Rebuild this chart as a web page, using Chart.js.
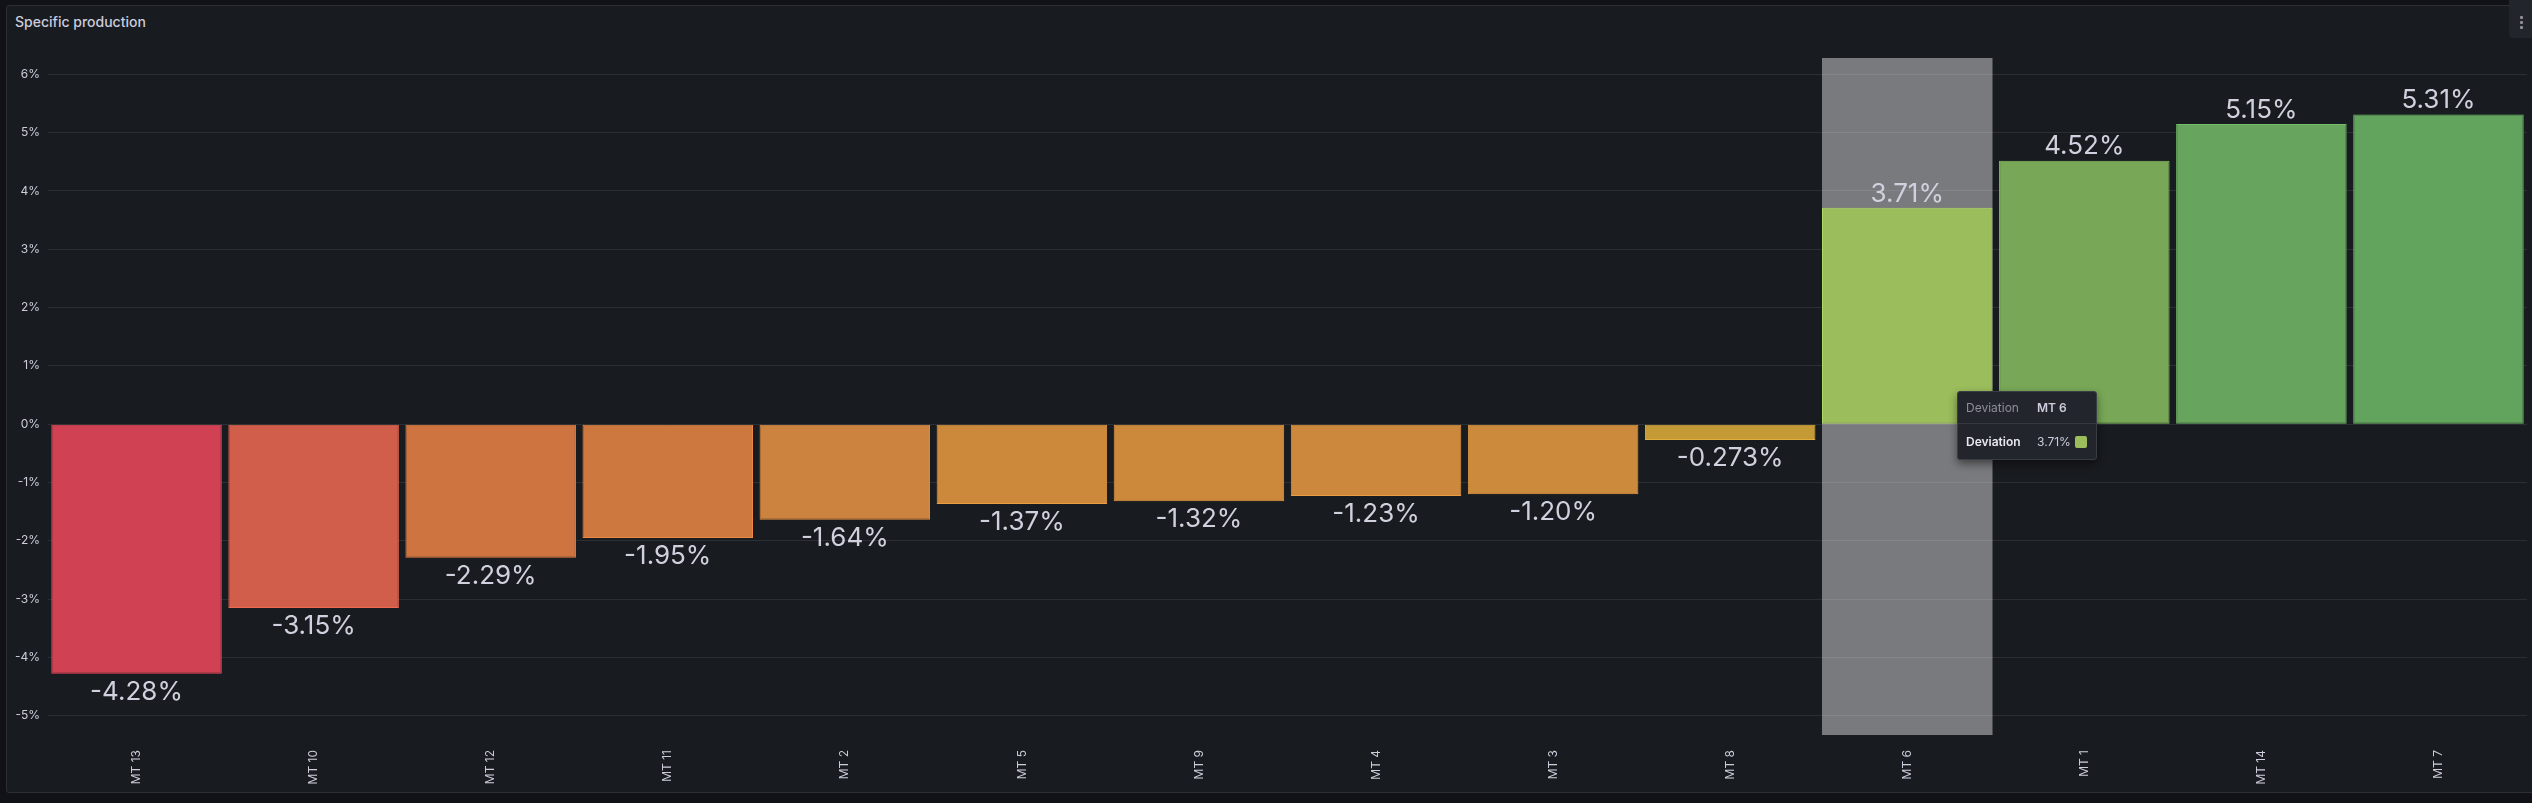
<!DOCTYPE html>
<html>
<head>
<meta charset="utf-8">
<script src="https://cdn.jsdelivr.net/npm/chart.js@4"></script>
<style>
  html, body { margin: 0; padding: 0; background: #111217; overflow: hidden; }
  body { width: 2532px; height: 803px; position: relative; font-family: Inter, "Noto Sans", sans-serif; }
  .panel { position: absolute; left: 6px; top: 5px; width: 2540px; height: 788px; background: #181b1f;
           border: 1px solid #2c2e33; border-radius: 3px; box-sizing: border-box; }
  .title { position: absolute; left: 15px; top: 13px; font-size: 14px; font-weight: 500; color: #ccccdc; line-height: 18px; }
  .menu { position: absolute; left: 2509px; top: 0; width: 30px; height: 38px; background: #22252b; border-radius: 0 0 0 4px; }
  .menu i { position: absolute; left: 11px; width: 3px; height: 3px; background: #8e8e96; border-radius: 1px; }
  canvas { position: absolute; left: 0; top: 0; }
  #tip { position: absolute; width: 140px; background: #22252b; border: 1px solid #3a3d43; border-radius: 3px;
         box-sizing: border-box; box-shadow: 0 4px 8px rgba(0,0,0,0.45); font-size: 12px; color: #ccccdc; }
  #tip .hd, #tip .row { display: flex; align-items: center; padding-left: 8px; }
  #tip .hd { height: 31px; border-bottom: 1px solid #34373d; }
  #tip .row { height: 35px; }
  #tip .k { width: 71px; }
  #tip .hd .k { color: #8e8e9a; }
  #tip .hd .v { font-weight: 600; }
  #tip .row .k { font-weight: 600; color: #e8e8f0; }
  #tip .sw { display: inline-block; width: 12px; height: 12px; border-radius: 2px; margin-left: 4px; vertical-align: -2px; }
</style>
</head>
<body>
<div class="panel"></div>
<div class="title">Specific production</div>
<div class="menu"><i style="top:16px"></i><i style="top:21px"></i><i style="top:26px"></i></div>
<canvas id="spec" width="2532" height="803"></canvas>
<div id="tip">
  <div class="hd"><span class="k">Deviation</span><span class="v" id="tipCat"></span></div>
  <div class="row"><span class="k">Deviation</span><span class="v" id="tipVal"></span></div>
</div>
<script>
// Ecart de production spécifique par onduleur (en %)
const categories = ["MT 13", "MT 10", "MT 12", "MT 11", "MT 2", "MT 5", "MT 9", "MT 4", "MT 3", "MT 8", "MT 6", "MT 1", "MT 14", "MT 7"];
const deviation = [-4.28, -3.15, -2.29, -1.95, -1.64, -1.37, -1.32, -1.23, -1.20, -0.273, 3.71, 4.52, 5.15, 5.31];
const yMin = -5.33;
const yMax = 6.28;
const hoverIndex = 10; // MT 6 survolé

// Couleurs de remplissage (palette rouge-jaune-vert)
const fills = ["#cf4153", "#d05e4a", "#cd7441", "#cd783e", "#cc833f", "#cc893c", "#cc893c", "#cc893d", "#cc8a3c", "#c49a37", "#9bbd5c", "#77a757", "#67a55e", "#62a35d"];

// bordure = couleur pleine (remplissage à ~85% sur le fond du panneau)
function borderOf(hex) {
  const bg = [24, 27, 31];
  const c = [1, 3, 5].map((i) => parseInt(hex.substr(i, 2), 16));
  const out = c.map((v, i) => Math.min(255, Math.round(bg[i] + (v - bg[i]) / 0.85)));
  return "rgb(" + out.join(",") + ")";
}

function fmt(v) {
  return Math.abs(v) < 1 ? v.toFixed(3) + "%" : v.toFixed(2) + "%";
}

// Colonne grise de survol
const hoverColumn = {
  id: "hoverColumn",
  beforeDatasetsDraw(chart) {
    const bar = chart.getDatasetMeta(0).data[hoverIndex];
    const area = chart.chartArea;
    const ctx = chart.ctx;
    ctx.save();
    ctx.fillStyle = "rgba(255,255,255,0.42)";
    ctx.fillRect(bar.x - bar.width / 2, area.top, bar.width, area.bottom - area.top);
    ctx.restore();
  },
};

// Valeurs affichées au bout des barres
const valueLabels = {
  id: "valueLabels",
  afterDatasetsDraw(chart) {
    const ctx = chart.ctx;
    ctx.save();
    ctx.font = "400 26px Inter";
    ctx.fillStyle = "#d0d0de";
    ctx.textAlign = "center";
    ctx.textBaseline = "middle";
    chart.getDatasetMeta(0).data.forEach((bar, i) => {
      const v = deviation[i];
      const y = v < 0 ? bar.y + 18 : bar.y - 14;
      ctx.fillText(fmt(v), bar.x, y);
    });
    ctx.restore();
  },
};

Chart.defaults.font.family = "Inter";
Chart.defaults.color = "#ccccdc";

const chart = new Chart(document.getElementById("spec"), {
  type: "bar",
  data: {
    labels: categories,
    datasets: [
      {
        label: "Deviation",
        data: deviation,
        backgroundColor: fills,
        borderColor: fills.map(borderOf),
        borderWidth: 1,
        borderSkipped: false,
        barPercentage: 1,
        categoryPercentage: 0.963,
      },
    ],
  },
  options: {
    responsive: false,
    animation: false,
    devicePixelRatio: 1,
    layout: { padding: { top: 58, right: 5, bottom: 0, left: 0 } },
    plugins: { legend: { display: false }, tooltip: { enabled: false } },
    scales: {
      x: {
        grid: { display: false, drawTicks: false },
        border: { display: false },
        ticks: { autoSkip: false, minRotation: 90, maxRotation: 90, padding: 15, font: { size: 12 }, color: "#ccccdc" },
        afterFit(scale) { scale.height = 68; },
      },
      y: {
        min: yMin,
        max: yMax,
        grid: { color: "rgba(240,250,255,0.09)", drawTicks: false },
        border: { display: false },
        ticks: {
          stepSize: 1,
          includeBounds: false,
          padding: 8,
          font: { size: 12 },
          color: "#ccccdc",
          callback: (v) => v + "%",
        },
        afterFit(scale) { scale.width = 48; },
      },
    },
  },
  plugins: [hoverColumn, valueLabels],
});

// Info-bulle positionnée sur la barre survolée
const hb = chart.getDatasetMeta(0).data[hoverIndex];
const tip = document.getElementById("tip");
tip.style.left = Math.round(hb.x + 50) + "px";
tip.style.top = Math.round(chart.scales.y.getPixelForValue(0) - 33) + "px";
document.getElementById("tipCat").textContent = categories[hoverIndex];
document.getElementById("tipVal").innerHTML = fmt(deviation[hoverIndex]) + '<i class="sw" style="background:' + fills[hoverIndex] + '"></i>';
</script>
</body>
</html>
